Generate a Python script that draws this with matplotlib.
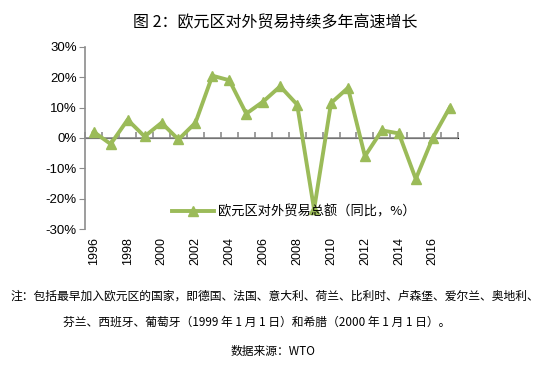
import numpy as np
import matplotlib
matplotlib.use("Agg")
from matplotlib import pyplot as plt
from matplotlib.ticker import FuncFormatter

plt.rcParams['font.family'] = ['Noto Sans CJK SC', 'DejaVu Sans']

years = list(range(1996, 2018))
growth = [2.0, -2.0, 6.0, 0.5, 5.0, -0.5, 5.0, 20.5, 19.0, 8.0, 12.0, 17.0,
          11.0, -23.5, 11.5, 16.5, -6.0, 2.5, 1.5, -13.5, 0.0, 10.0]
series_name = "欧元区对外贸易总额（同比，%）"
title = "图 2：欧元区对外贸易持续多年高速增长"
note1 = "注：包括最早加入欧元区的国家，即德国、法国、意大利、荷兰、比利时、卢森堡、爱尔兰、奥地利、"
note2 = "芬兰、西班牙、葡萄牙（1999 年 1 月 1 日）和希腊（2000 年 1 月 1 日）。"
source = "数据来源：WTO"

green = '#9bbb59'
gray = '#8c8c8c'

fig = plt.figure(figsize=(5.5, 3.78), dpi=100)
ax = fig.add_axes([0.155, 0.394, 0.678, 0.482])

x = np.arange(len(years))
ax.plot(x, growth, color=green, lw=2.8, marker='^', ms=7.5, label=series_name)

ax.set_xlim(-0.5, len(years) - 0.5)
ax.set_ylim(-30, 30)
ax.set_yticks(np.arange(-30, 31, 10))
ax.yaxis.set_major_formatter(FuncFormatter(lambda v, p: f"{v:.0f}%"))
ax.tick_params(axis='y', direction='out', length=4, color=gray, labelsize=9.5,
               pad=2)
for lab in ax.get_yticklabels():
    lab.set_family(['Liberation Sans', 'DejaVu Sans'])

ax.set_xticks(x[::2])
ax.set_xticklabels([str(y) for y in years[::2]], rotation=90,
                   family=['Liberation Sans', 'DejaVu Sans'], fontsize=9)
ax.tick_params(axis='x', length=0, pad=6)

for s in ['top', 'right', 'bottom']:
    ax.spines[s].set_visible(False)
ax.spines['left'].set_color(gray)
ax.spines['left'].set_linewidth(1.2)

# zero line with tick marks between categories
ax.axhline(0, color=gray, lw=1.2, zorder=1)
sec = ax.secondary_xaxis(0.5)
sec.set_xticks(np.arange(-0.5, len(years), 1.0))
sec.set_xticklabels([])
sec.tick_params(direction='out', length=4, color=gray, width=1.2)
sec.spines['bottom'].set_visible(False)

leg = ax.legend(loc='lower center', bbox_to_anchor=(0.56, 0.03), frameon=False,
                handlelength=3.2, fontsize=9.5, borderaxespad=0,
                handletextpad=0.3)

fig.text(0.5, 0.939, title, ha='center', va='center', fontsize=11.5)
fig.text(0.5, 0.217, note1, ha='center', va='center', fontsize=8.5)
fig.text(0.467, 0.148, note2, ha='center', va='center', fontsize=8.5)
fig.text(0.497, 0.069, source, ha='center', va='center', fontsize=8.5)

fig.savefig('out.png', dpi=100)
